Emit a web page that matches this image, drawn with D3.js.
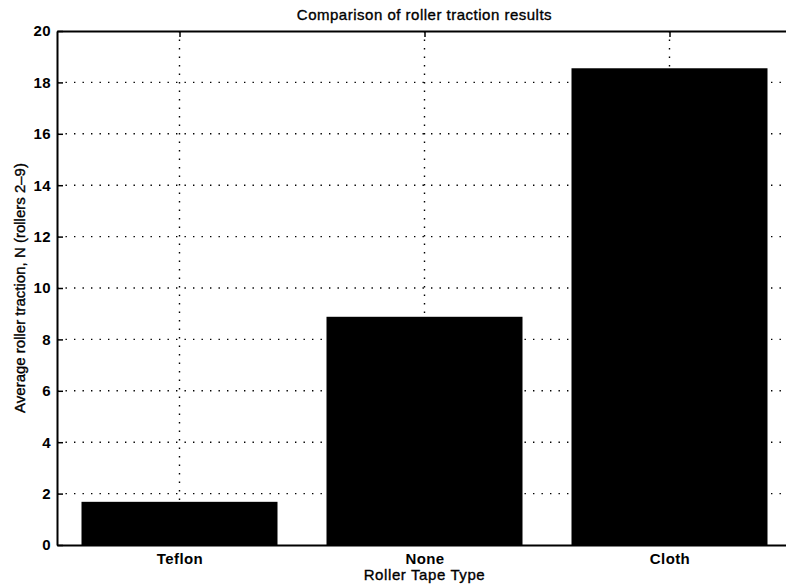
<!DOCTYPE html>
<meta charset="utf-8">
<style>
body { margin: 0; background: #fff; }
text { font-family: "Liberation Sans", Arial, sans-serif; fill: #000; }
.tick text { font-size: 15px; font-weight: bold; letter-spacing: 0.4px; }
.label { stroke: #000; stroke-width: 0.35px; }
.grid line { stroke: #000; stroke-width: 1.4; stroke-dasharray: 1.4,7.1; }
</style>
<svg width="786" height="586" id="svg"></svg>
<script src="https://d3js.org/d3.v7.min.js"></script>
<script>

var categories = ["Teflon", "None", "Cloth"];
var traction = [1.68, 8.88, 18.55];
var yTicks = [0, 2, 4, 6, 8, 10, 12, 14, 16, 18, 20];

var svg = d3.select("svg");

var plotLeft = 57, plotRight = 792, plotTop = 31, plotBottom = 545;

// matlab style: bars at 1..n, xlim [0.5, n+0.5]
var x = d3.scaleLinear()
    .domain([0.5, categories.length + 0.5])
    .range([plotLeft, plotRight]);

var y = d3.scaleLinear()
    .domain([0, 20])
    .range([plotBottom, plotTop]);

var pos = categories.map(function(d, i) { return i + 1; });

// dotted grid
var grid = svg.append("g").attr("class", "grid");
grid.selectAll(".gy")
    .data(yTicks.slice(1, -1))
  .enter().append("line")
    .attr("x1", plotLeft).attr("x2", plotRight)
    .attr("y1", function(d) { return y(d); })
    .attr("y2", function(d) { return y(d); });
grid.selectAll(".gx")
    .data(pos)
  .enter().append("line")
    .attr("x1", function(d) { return x(d); })
    .attr("x2", function(d) { return x(d); })
    .attr("y1", plotTop).attr("y2", plotBottom);

// bars
svg.append("g")
  .selectAll("rect")
  .data(traction)
  .enter().append("rect")
    .attr("x", function(d, i) { return x(pos[i] - 0.4); })
    .attr("width", x(1.4) - x(0.6))
    .attr("y", function(d) { return y(d); })
    .attr("height", function(d) { return y(0) - y(d); })
    .attr("fill", "#000");

// axes (ticks inside like matlab)
var yAxis = d3.axisLeft(y).tickValues(yTicks).tickSizeInner(-6).tickSizeOuter(0).tickPadding(6);
svg.append("g")
    .attr("transform", "translate(" + plotLeft + ",0)")
    .call(yAxis)
    .call(function(g) { g.select(".domain").attr("stroke-width", 2); g.selectAll(".tick line").attr("stroke-width", 1.5); });

svg.append("g")
    .attr("transform", "translate(" + plotRight + ",0)")
    .call(d3.axisRight(y).tickValues(yTicks).tickSizeInner(-6).tickSizeOuter(0).tickFormat(""))
    .call(function(g) { g.select(".domain").attr("stroke-width", 2); });

var xAxis = d3.axisBottom(x).tickValues(pos)
    .tickFormat(function(d) { return categories[d - 1]; })
    .tickSizeInner(-6).tickSizeOuter(0).tickPadding(8);
svg.append("g")
    .attr("transform", "translate(0," + plotBottom + ")")
    .call(xAxis)
    .call(function(g) { g.select(".domain").attr("stroke-width", 2); g.selectAll(".tick line").attr("stroke-width", 1.5); });

svg.append("g")
    .attr("transform", "translate(0," + plotTop + ")")
    .call(d3.axisTop(x).tickValues(pos).tickSizeInner(-6).tickSizeOuter(0).tickFormat(""))
    .call(function(g) { g.select(".domain").attr("stroke-width", 2); g.selectAll(".tick line").attr("stroke-width", 1.5); });

// labels
svg.append("text")
    .attr("class", "label")
    .attr("x", (plotLeft + plotRight) / 2)
    .attr("y", 20)
    .attr("text-anchor", "middle")
    .style("font-size", "15px")
    .style("letter-spacing", "0.5px")
    .text("Comparison of roller traction results");

svg.append("text")
    .attr("class", "label")
    .attr("x", (plotLeft + plotRight) / 2)
    .attr("y", 580)
    .attr("text-anchor", "middle")
    .style("font-size", "15px")
    .style("letter-spacing", "0.6px")
    .text("Roller Tape Type");

svg.append("text")
    .attr("class", "label")
    .attr("transform", "translate(25," + ((plotTop + plotBottom) / 2) + ") rotate(-90)")
    .attr("text-anchor", "middle")
    .style("font-size", "15px")
    .text("Average roller traction, N (rollers 2\u20139)");

</script>
